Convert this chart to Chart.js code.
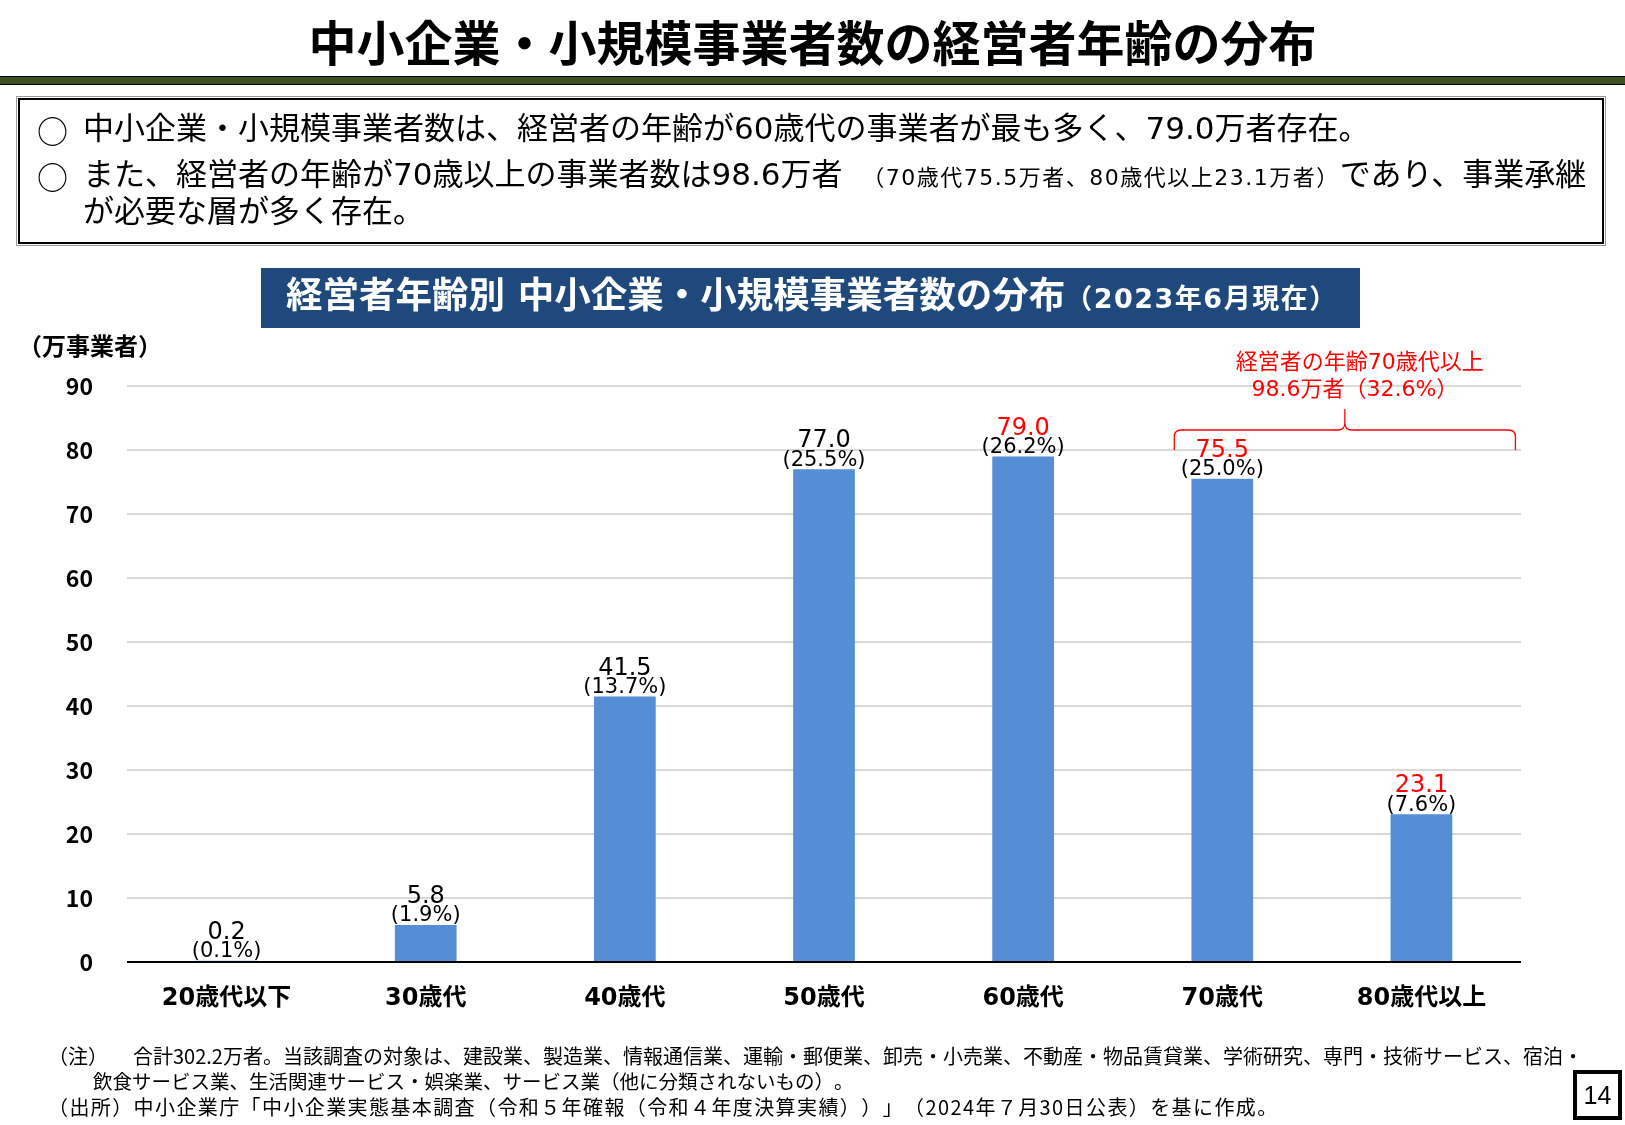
<!DOCTYPE html>
<html><head><meta charset="utf-8">
<script src="https://cdn.jsdelivr.net/npm/chart.js@4"></script>
<style>
html,body{margin:0;padding:0;background:#fff;}
body{width:1625px;height:1125px;position:relative;overflow:hidden;font-family:"Noto Sans CJK JP",sans-serif;color:#000;text-spacing-trim:space-all;}
#c{position:absolute;left:0;top:0;}
.abs{position:absolute;white-space:nowrap;line-height:1;}
#title{left:0;width:1625px;text-align:center;top:16px;font-size:48px;font-weight:bold;}
#band{left:0;top:76px;width:1625px;height:7px;background:#3f5020;border-top:1px solid #000;border-bottom:1px solid #000;}
#box{left:18px;top:98px;width:1582px;height:142px;border:2px solid #000;outline:1px solid #999;outline-offset:1px;}
.big{font-size:31px;font-family:"DejaVu Sans","Noto Sans CJK JP",sans-serif;}
.circ{font-size:31px;}
.small{font-size:22px;letter-spacing:1.5px;margin-left:10px;}
#banner{left:261px;top:268px;width:1099px;height:60px;background:#1f497d;color:#fff;font-weight:bold;font-family:"DejaVu Sans","Noto Sans CJK JP",sans-serif;}
#banner span{position:absolute;top:-2px;line-height:60px;white-space:nowrap;}
#ytitle{left:18px;top:333px;font-size:24px;font-weight:bold;}
.note{font-size:20px;}
#page{left:1573px;top:1070px;width:41px;height:42px;border:4px solid #000;font-family:"Liberation Sans",Arial,sans-serif;font-size:25px;text-align:center;line-height:42px;}
</style></head><body>
<canvas id="c" width="1625" height="1125"></canvas>

<div id="title" class="abs">中小企業・小規模事業者数の経営者年齢の分布</div>
<div id="band" class="abs"></div>
<div id="box" class="abs"></div>
<div class="abs circ" style="left:37px;top:114px;">○</div>
<div class="abs big" style="left:83px;top:113px;">中小企業・小規模事業者数は、経営者の年齢が60歳代の事業者が最も多く、79.0万者存在。</div>
<div class="abs circ" style="left:37px;top:160px;">○</div>
<div class="abs big" style="left:83px;top:159px;">また、経営者の年齢が70歳以上の事業者数は98.6万者 <span class="small">（70歳代75.5万者、80歳代以上23.1万者）</span>であり、事業承継</div>
<div class="abs big" style="left:83px;top:196px;">が必要な層が多く存在。</div>

<div id="banner" class="abs"><span style="left:25px;font-size:36.5px;">経営者年齢別 中小企業・小規模事業者数の分布<span style="position:static;font-size:27px;letter-spacing:1.5px;">（2023年6月現在）</span></span></div>

<div id="ytitle" class="abs">（万事業者）</div>

<div class="abs note" style="left:48px;top:1046px;">（注）</div>
<div class="abs note" style="left:133px;top:1046px;">合計302.2万者。当該調査の対象は、建設業、製造業、情報通信業、運輸・郵便業、卸売・小売業、不動産・物品賃貸業、学術研究、専門・技術サービス、宿泊・</div>
<div class="abs note" style="left:93px;top:1071px;font-size:19.5px;">飲食サービス業、生活関連サービス・娯楽業、サービス業（他に分類されないもの）。</div>
<div class="abs note" style="left:48px;top:1097px;letter-spacing:1.4px;">（出所）中小企業庁「中小企業実態基本調査（令和５年確報（令和４年度決算実績））」（2024年７月30日公表）を基に作成。</div>
<div id="page" class="abs">14</div>

<script>
const categories = ['20歳代以下','30歳代','40歳代','50歳代','60歳代','70歳代','80歳代以上'];
const values = [0.2, 5.8, 41.5, 77.0, 79.0, 75.5, 23.1];
const shares = [0.1, 1.9, 13.7, 25.5, 26.2, 25.0, 7.6];
const valueColors = ['#000','#000','#000','#000','#ff0000','#ff0000','#ff0000'];
const yMin = 0, yMax = 90, yStep = 10;
const annotationLines = ['経営者の年齢70歳代以上', '98.6万者（32.6%）'];
const bracketFrom = 5, bracketTo = 6, bracketValue = 80;

const labelPlugin = {
  id: 'labels',
  afterDatasetsDraw(chart) {
    const ctx = chart.ctx;
    const meta = chart.getDatasetMeta(0);
    ctx.save();
    ctx.textAlign = 'center';
    ctx.textBaseline = 'middle';
    meta.data.forEach((bar, i) => {
      const x = bar.x, top = bar.y;
      ctx.font = '24px "DejaVu Sans"';
      ctx.fillStyle = valueColors[i];
      ctx.fillText(values[i].toFixed(1), x, top - 28);
      ctx.font = '21px "DejaVu Sans"';
      ctx.fillStyle = '#000';
      ctx.fillText('(' + shares[i].toFixed(1) + '%)', x, top - 9);
    });
    // bracket over the 70+ groups
    const xs = chart.scales.x, ys = chart.scales.y;
    const x1 = xs.getPixelForValue(bracketFrom) - 48;
    const x2 = xs.getPixelForValue(bracketTo) + 94;
    const yb = ys.getPixelForValue(bracketValue);
    const yh = yb - 20;
    const xm = (x1 + x2) / 2;
    const yp = yh - 21;
    const r = 7;
    ctx.strokeStyle = '#ff0000';
    ctx.lineWidth = 1.3;
    ctx.beginPath();
    ctx.moveTo(x1, yb);
    ctx.lineTo(x1, yh + r);
    ctx.quadraticCurveTo(x1, yh, x1 + r, yh);
    ctx.lineTo(xm - r, yh);
    ctx.quadraticCurveTo(xm, yh, xm, yh - r);
    ctx.lineTo(xm, yp);
    ctx.moveTo(xm, yh - r);
    ctx.quadraticCurveTo(xm, yh, xm + r, yh);
    ctx.lineTo(x2 - r, yh);
    ctx.quadraticCurveTo(x2, yh, x2, yh + r);
    ctx.lineTo(x2, yb);
    ctx.stroke();
    ctx.fillStyle = '#ff0000';
    ctx.font = '22px "DejaVu Sans", "Noto Sans CJK JP"';
    ctx.fillText(annotationLines[0], xm + 15, yp - 46);
    ctx.fillText(annotationLines[1], xm + 10, yp - 19);
    ctx.restore();
  }
};

new Chart(document.getElementById('c'), {
  type: 'bar',
  data: {
    labels: categories,
    datasets: [{
      data: values,
      backgroundColor: '#558ed5',
      borderWidth: 0,
      categoryPercentage: 1,
      barPercentage: 0.31
    }]
  },
  options: {
    responsive: false,
    animation: false,
    devicePixelRatio: 1,
    layout: { padding: { left: 0, top: 386, right: 104, bottom: 0 } },
    plugins: { legend: { display: false }, tooltip: { enabled: false } },
    scales: {
      x: {
        grid: { display: false, drawTicks: false },
        border: { display: false },
        ticks: { color: '#000', padding: 22, font: { family: '"DejaVu Sans", "Noto Sans CJK JP"', size: 24, weight: 'bold' } },
        afterFit(s) { s.height = 163; }
      },
      y: {
        min: yMin, max: yMax,
        grid: { drawTicks: false, lineWidth: 2, color: c => c.tick && c.tick.value === 0 ? '#000' : '#d9d9d9' },
        border: { display: false },
        ticks: { stepSize: yStep, color: '#000', padding: 34, font: { family: 'Noto Sans CJK JP', size: 23, weight: 'bold' } },
        afterFit(s) { s.width = 127; }
      }
    }
  },
  plugins: [labelPlugin]
});
</script>
</body></html>
